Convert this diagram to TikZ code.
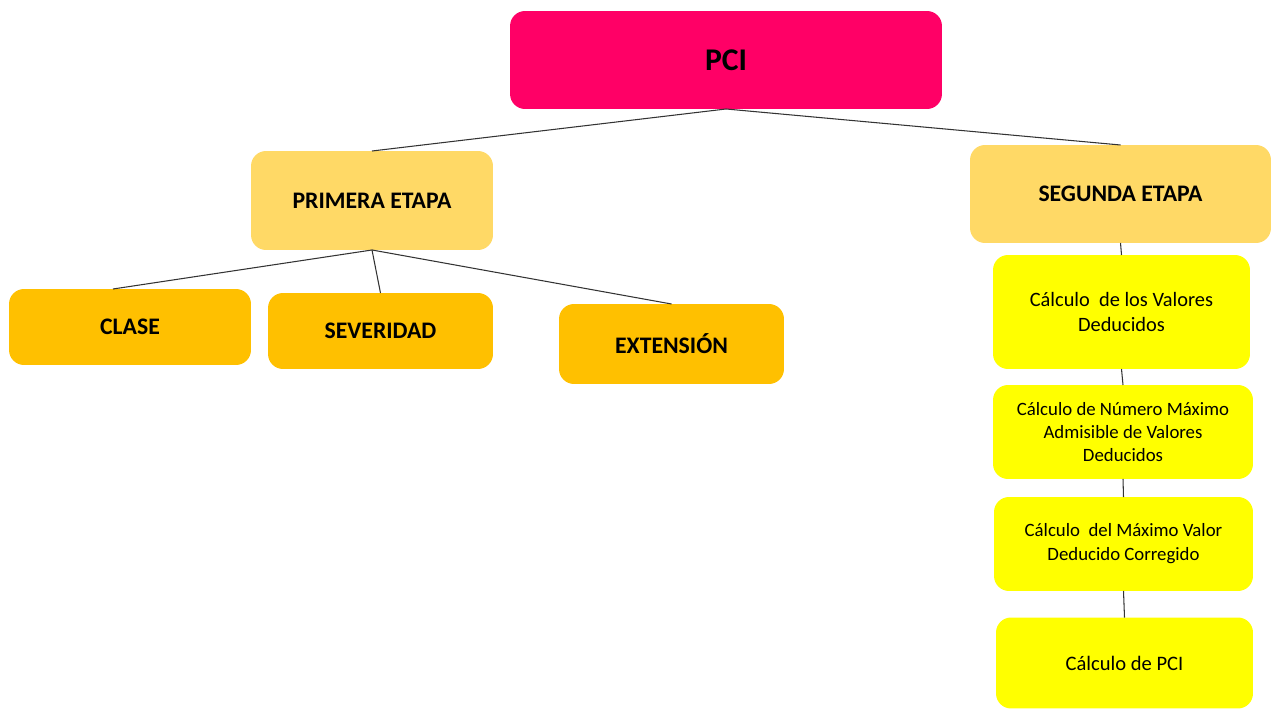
\documentclass[tikz,border=0pt]{standalone}
\usepackage{fontspec}
\setmainfont{Carlito}
\definecolor{pcipink}{HTML}{FF0066}
\definecolor{etapaamber}{HTML}{FFD966}
\definecolor{critorange}{HTML}{FFC000}
\definecolor{calcyellow}{HTML}{FFFF00}
\begin{document}
\begin{tikzpicture}[x=0.02cm, y=-0.02cm,
    box/.style={rounded corners=0.3cm, inner sep=0pt, outer sep=0pt, align=center},
    link/.style={draw=black!80, line width=0.6pt}
]
    \useasboundingbox (0,0) rectangle (1271,709);

    % Root
    \node[box, fill=pcipink, minimum width=8.64cm, minimum height=1.96cm, font=\fontsize{18}{22}\selectfont\bfseries] (pci) at (726,60) {PCI};

    % Stages
    \node[box, fill=etapaamber, minimum width=4.84cm, minimum height=1.98cm, font=\fontsize{13.5}{16}\selectfont\bfseries] (primera) at (372,200.5) {PRIMERA ETAPA};
    \node[box, fill=etapaamber, minimum width=6.02cm, minimum height=1.96cm, font=\fontsize{13.5}{16}\selectfont\bfseries] (segunda) at (1120.5,194) {SEGUNDA ETAPA};

    % First stage criteria
    \node[box, fill=critorange, minimum width=4.84cm, minimum height=1.52cm, font=\fontsize{13.5}{16}\selectfont\bfseries] (clase) at (130,327) {CLASE};
    \node[box, fill=critorange, minimum width=4.5cm, minimum height=1.52cm, font=\fontsize{13.5}{16}\selectfont\bfseries] (severidad) at (380.5,331) {SEVERIDAD};
    \node[box, fill=critorange, minimum width=4.5cm, minimum height=1.6cm, font=\fontsize{13.5}{16}\selectfont\bfseries] (extension) at (671.5,344) {EXTENSIÓN};

    % Second stage steps
    \node[box, fill=calcyellow, minimum width=5.14cm, minimum height=2.28cm, font=\fontsize{11.6}{14.2}\selectfont] (calcdeducidos) at (1121.5,312) {Cálculo\ \ de los Valores\\Deducidos};
    \node[box, fill=calcyellow, minimum width=5.2cm, minimum height=1.88cm, font=\fontsize{10.7}{13}\selectfont] (calcnumero) at (1123,432) {Cálculo de Número Máximo\\Admisible de Valores\\Deducidos};
    \node[box, fill=calcyellow, minimum width=5.18cm, minimum height=1.88cm, font=\fontsize{10.7}{13.6}\selectfont] (calcmaximo) at (1123.5,544) {Cálculo\ \ del Máximo Valor\\Deducido Corregido};
    \node[box, fill=calcyellow, minimum width=5.14cm, minimum height=1.82cm, font=\fontsize{11.7}{14}\selectfont] (calcpci) at (1124.5,663) {Cálculo de PCI};

    % Links
    \draw[link] (pci.south) -- (primera.north);
    \draw[link] (pci.south) -- (segunda.north);
    \draw[link] (primera.south) -- ([xshift=-0.34cm]clase.north);
    \draw[link] (primera.south) -- (severidad.north);
    \draw[link] (primera.south) -- (extension.north);
    \draw[link] (segunda.south) -- (calcdeducidos.north);
    \draw[link] (calcdeducidos.south) -- (calcnumero.north);
    \draw[link] (calcnumero.south) -- (calcmaximo.north);
    \draw[link] (calcmaximo.south) -- (calcpci.north);
\end{tikzpicture}
\end{document}
